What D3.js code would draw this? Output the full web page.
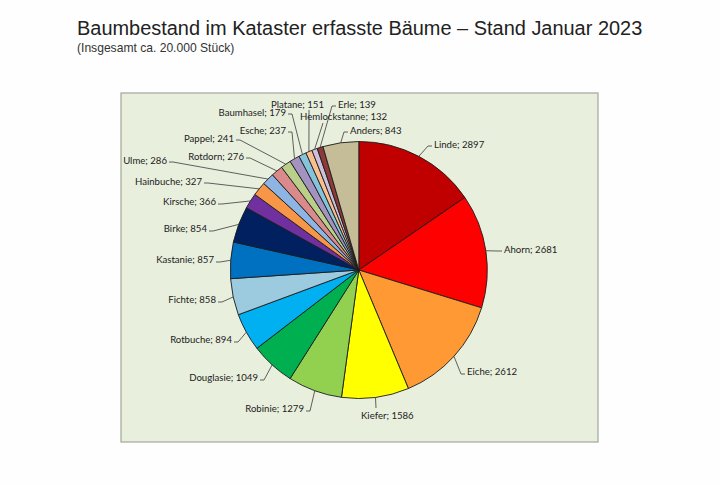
<!DOCTYPE html>
<html>
<head>
<meta charset="utf-8">
<script src="https://cdn.jsdelivr.net/npm/d3@7"></script>
<style>
  html, body { margin: 0; padding: 0; background: #fefefe; }
  svg { display: block; }
</style>
</head>
<body>
<script>
const species = ["Linde", "Ahorn", "Eiche", "Kiefer", "Robinie", "Douglasie", "Rotbuche", "Fichte",
                 "Kastanie", "Birke", "Kirsche", "Hainbuche", "Ulme", "Rotdorn", "Pappel", "Esche",
                 "Baumhasel", "Platane", "Hemlockstanne", "Erle", "Anders"];
const counts = [2897, 2681, 2612, 1586, 1279, 1049, 894, 858, 857, 854, 366, 327, 286, 276, 241, 237,
                179, 151, 132, 139, 843];
const palette = ["#c00000", "#ff0000", "#ff9933", "#ffff00", "#92d050", "#00b050", "#00b0f0", "#9ccbe0",
                 "#0070c0", "#002060", "#7030a0", "#f79646", "#8db4e2", "#da8a8a", "#b9cf8a", "#a493c0",
                 "#85c3dc", "#fabf8f", "#ccc0da", "#8c3a3a", "#c4bd97"];

// where each label sits, same order as species. a = text-anchor, to = line end when it has no tail
const labelSpots = [
  {x: 434, y: 145, a: "start"},
  {x: 504, y: 250, a: "start"},
  {x: 467, y: 372, a: "start", low: true},
  {x: 361, y: 416, a: "start", to: [376, 408]},
  {x: 304, y: 409, a: "end", low: true},
  {x: 258, y: 378, a: "end", low: true},
  {x: 232, y: 340, a: "end", low: true},
  {x: 216, y: 300, a: "end", low: true},
  {x: 214, y: 260, a: "end", low: true},
  {x: 207, y: 229, a: "end", low: true},
  {x: 216, y: 202, a: "end", low: true},
  {x: 202, y: 182, a: "end"},
  {x: 167, y: 161, a: "end"},
  {x: 244, y: 157, a: "end"},
  {x: 234, y: 139, a: "end"},
  {x: 286, y: 131, a: "end"},
  {x: 286, y: 113, a: "end"},
  {x: 271, y: 105, a: "start", to: [309, 110]},
  {x: 300, y: 117, a: "start", to: [323, 123]},
  {x: 338, y: 105, a: "start"},
  {x: 350, y: 131, a: "start"}
];

const w = 720;
const h = 486;
const cx = 358.8;
const cy = 270;
const radius = 128.5;

const svg = d3.select("body").append("svg")
              .attr("width", w)
              .attr("height", h);

svg.append("text")
   .attr("x", 77)
   .attr("y", 35)
   .attr("font-family", "Liberation Sans")
   .attr("font-size", 19.95)
   .attr("fill", "#222")
   .text("Baumbestand im Kataster erfasste Bäume – Stand Januar 2023");

svg.append("text")
   .attr("x", 77)
   .attr("y", 52)
   .attr("font-family", "Liberation Sans")
   .attr("font-size", 12.1)
   .attr("fill", "#333")
   .text("(Insgesamt ca. 20.000 Stück)");

svg.append("rect")
   .attr("x", 121)
   .attr("y", 93)
   .attr("width", 477)
   .attr("height", 349)
   .attr("fill", "#e9efdd")
   .attr("stroke", "#a3a59d")
   .attr("stroke-width", 1.2);

const pie = d3.pie().sort(null).value((d) => d.count);
const arc = d3.arc().innerRadius(0).outerRadius(radius);
const rim = d3.arc().innerRadius(radius).outerRadius(radius);

const slices = pie(species.map((name, i) => ({name: name, count: counts[i], spot: labelSpots[i]})));

const plot = svg.append("g").attr("transform", "translate(" + cx + "," + cy + ")");

plot.selectAll("path")
    .data(slices)
    .enter()
    .append("path")
    .attr("d", arc)
    .attr("fill", (d, i) => palette[i])
    .attr("stroke", "#1c1c1c")
    .attr("stroke-width", 0.9)
    .attr("stroke-linejoin", "round");

const line = d3.line();

svg.selectAll(".leader")
   .data(slices)
   .enter()
   .append("path")
   .attr("class", "leader")
   .attr("fill", "none")
   .attr("stroke", "#3a3a3a")
   .attr("stroke-width", 0.8)
   .attr("d", (d) => {
     const s = d.data.spot;
     const c = rim.centroid(d);
     const start = [cx + c[0], cy + c[1]];
     if (s.to) return line([start, s.to]);
     const dir = s.a === "start" ? -1 : 1;
     const ty = s.y + (s.low ? 2 : 1);
     return line([start, [s.x + dir * 6, ty], [s.x + dir * 2, ty]]);
   });

svg.selectAll(".lbl")
   .data(slices)
   .enter()
   .append("text")
   .attr("class", "lbl")
   .attr("x", (d) => d.data.spot.x)
   .attr("y", (d) => d.data.spot.y)
   .attr("dy", "0.35em")
   .attr("text-anchor", (d) => d.data.spot.a)
   .attr("font-family", "Lato")
   .attr("font-size", 9.6)
   .attr("fill", "#222")
   .text((d) => d.data.name + "; " + d.data.count);
</script>
</body>
</html>
